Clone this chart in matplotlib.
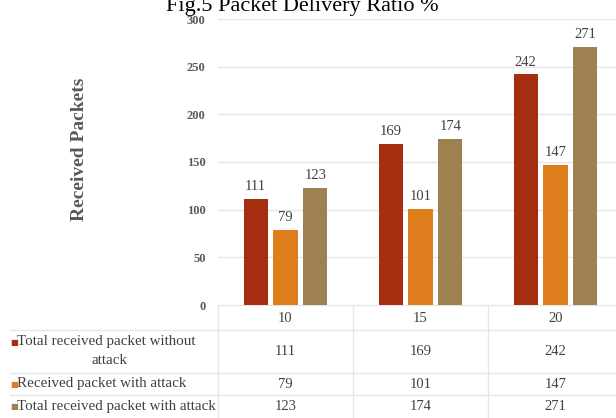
import matplotlib

matplotlib.use("Agg")
import matplotlib.pyplot as plt
import numpy as np

# data
categories = ["10", "15", "20"]
table_labels = [
    "Total received packet without\nattack",
    "Received packet with attack",
    "Total received packet with attack",
]
without_attack = [111, 169, 242]
with_attack = [79, 101, 147]
total_with_attack = [123, 174, 271]
y_ticks = [0, 50, 100, 150, 200, 250, 300]

SERIES = [without_attack, with_attack, total_with_attack]
COLORS = ["#A52D10", "#DF7E1C", "#9D8150"]
TEXT = "#404040"
TICK = "#595959"
LINE = "#E6E6E6"
FONT = "Liberation Serif"

W, H = 616, 418
fig = plt.figure(figsize=(W / 100, H / 100), dpi=100)
plt.rcParams["font.family"] = FONT


def px(x0, y0, x1, y1):
    # pixel box (top-left origin) -> figure fraction rect
    return [x0 / W, 1 - y1 / H, (x1 - x0) / W, (y1 - y0) / H]


ax = fig.add_axes(px(218, 19, 623, 305))
x = np.arange(len(categories))
bar_w = 0.178
step = 0.222
for i, (vals, col) in enumerate(zip(SERIES, COLORS)):
    pos = x + (i - 1) * step
    bars = ax.bar(pos, vals, width=bar_w, color=col, zorder=3)
    for b, v in zip(bars, vals):
        ax.text(b.get_x() + b.get_width() / 2, v + 6, str(v), ha="center",
                va="bottom", fontsize=10.5, color=TEXT)

ax.set_xlim(-0.5, 2.5)
ax.set_ylim(0, 300)
ax.set_yticks(y_ticks)
ax.set_yticklabels([str(t) for t in y_ticks], fontsize=9, color=TICK,
                   fontweight="bold")
ax.tick_params(axis="y", length=0, pad=9)
ax.set_xticks([])
ax.grid(axis="y", color=LINE, linewidth=1.0, zorder=0)
for s in ["left", "right", "top", "bottom"]:
    ax.spines[s].set_visible(False)

fig.text(80 / W, 1 - 149 / H, "Received Packets", rotation=90, ha="center",
         va="center", fontsize=14, fontweight="bold", color=TICK)

fig.text(302 / W, 1 - 11 / H, "Fig.5 Packet Delivery Ratio %", ha="center",
         va="baseline", fontsize=16, color="#000000")

# data table below the plot
tab = fig.add_axes([0, 0, 623 / W, 113 / H])
tab.set_xlim(0, 623)
tab.set_ylim(113, 0)
tab.axis("off")
col_edges = [218 + 135 * k for k in range(len(categories) + 1)]
row_edges = [0, 25, 68, 90, 113]
for xe in col_edges:
    tab.plot([xe, xe], [0, 113], color=LINE, linewidth=1.0)
tab.plot([218, 623], [0, 0], color=LINE, linewidth=1.0)
for ye in row_edges[1:-1]:
    tab.plot([10, 623], [ye, ye], color=LINE, linewidth=1.0)

for j, c in enumerate(categories):
    tab.text((col_edges[j] + col_edges[j + 1]) / 2, 13, c, ha="center",
             va="center", fontsize=10.5, color=TEXT)

for i, (lab, vals, col) in enumerate(zip(table_labels, SERIES, COLORS)):
    top, bot = row_edges[i + 1], row_edges[i + 2]
    mid = (top + bot) / 2
    lines = lab.split("\n")
    first_y = mid if len(lines) == 1 else top + 12
    tab.text(10, first_y, "\u25A0", ha="left", va="center", fontsize=6,
             color=col, family="DejaVu Sans")
    tab.text(17, first_y, lines[0], ha="left", va="center", fontsize=10.8,
             color=TEXT)
    if len(lines) > 1:
        tab.text(109, top + 31, lines[1], ha="center", va="center",
                 fontsize=10.8, color=TEXT)
    for j, v in enumerate(vals):
        tab.text((col_edges[j] + col_edges[j + 1]) / 2, mid, str(v),
                 ha="center", va="center", fontsize=10.5, color=TEXT)

fig.savefig("out.png", dpi=100)
